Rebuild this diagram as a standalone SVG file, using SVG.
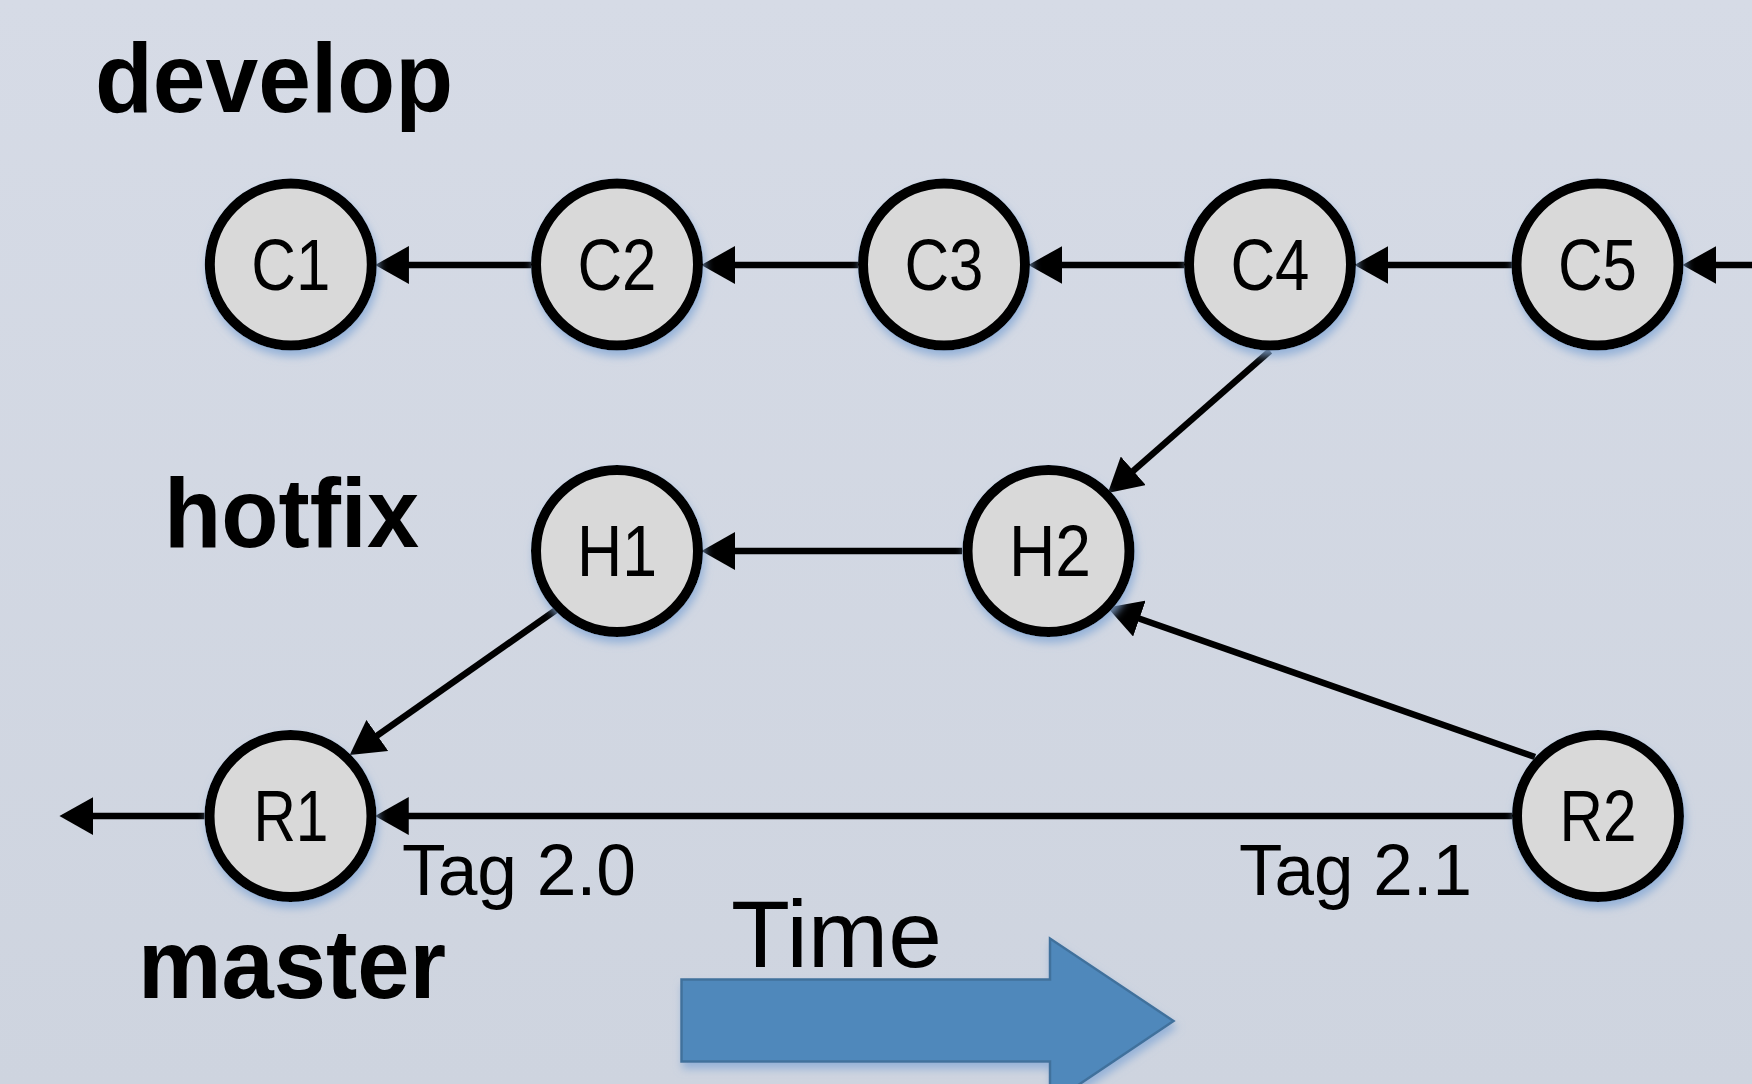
<svg xmlns="http://www.w3.org/2000/svg" width="1752" height="1084" viewBox="0 0 1752 1084">
  <defs>
    <linearGradient id="bg" x1="0" y1="0" x2="0" y2="1">
      <stop offset="0" stop-color="#d6dbe6"/>
      <stop offset="1" stop-color="#ced4df"/>
    </linearGradient>
    <filter id="glow" x="-30%" y="-30%" width="160%" height="160%">
      <feGaussianBlur in="SourceAlpha" stdDeviation="4"/>
      <feOffset dx="2" dy="6" result="b"/>
      <feFlood flood-color="#86a9d6" flood-opacity="0.8"/>
      <feComposite in2="b" operator="in" result="s"/>
      <feMerge><feMergeNode in="s"/><feMergeNode in="SourceGraphic"/></feMerge>
    </filter>
    <marker id="ah" markerUnits="userSpaceOnUse" markerWidth="34" markerHeight="38" refX="4" refY="18" orient="auto" viewBox="0 0 32 36">
      <path d="M0,0 L32,18 L0,36 Z" fill="#000"/>
    </marker>
    <style>
      .node circle { fill: #d9d9d9; stroke: #000; stroke-width: 10; }
      .node text { font-family: "Liberation Sans", Arial, sans-serif; font-size: 73px; fill: #000; text-anchor: middle; }
      .edge { stroke: #000; stroke-width: 6.5; fill: none; marker-end: url(#ah); }
      .branch { font-family: "Liberation Sans", Arial, sans-serif; font-weight: bold; font-size: 98px; fill: #000; }
      .tag { font-family: "Liberation Sans", Arial, sans-serif; font-size: 72px; fill: #000; }
    </style>
  </defs>

  <rect x="0" y="0" width="1752" height="1084" fill="url(#bg)"/>

  <g id="labels">
    <text class="branch" x="95" y="112" textLength="358" lengthAdjust="spacingAndGlyphs">develop</text>
    <text class="branch" x="164" y="547" textLength="255" lengthAdjust="spacingAndGlyphs">hotfix</text>
    <text class="branch" x="138" y="998" textLength="308" lengthAdjust="spacingAndGlyphs">master</text>
    <text class="tag" x="402" y="895" textLength="234" lengthAdjust="spacingAndGlyphs">Tag 2.0</text>
    <text class="tag" x="1239" y="895" textLength="233" lengthAdjust="spacingAndGlyphs">Tag 2.1</text>
    <text class="tag" x="731" y="967" style="font-size:95px" textLength="211" lengthAdjust="spacingAndGlyphs">Time</text>
  </g>

  <g id="time-arrow" filter="url(#glow)">
    <path d="M681.5,979.5 L1050,979.5 L1050,938.5 L1173.5,1021 L1050,1104 L1050,1061.5 L681.5,1061.5 Z" fill="#4f88bb" stroke="#41719c" stroke-width="2.5"/>
  </g>

  <g id="connectors">
    <line class="edge" x1="531" y1="265" x2="404.7" y2="265"/>
    <line class="edge" x1="858" y1="265" x2="730.8" y2="265"/>
    <line class="edge" x1="1184" y1="265" x2="1058" y2="265"/>
    <line class="edge" x1="1512" y1="265" x2="1384" y2="265"/>
    <line class="edge" x1="1760" y1="265" x2="1712" y2="265"/>
    <line class="edge" x1="1270" y1="351" x2="1130.1" y2="473.6"/>
    <line class="edge" x1="962" y1="551" x2="731" y2="551"/>
    <line class="edge" x1="1535" y1="757" x2="1135.4" y2="617.2"/>
    <line class="edge" x1="556" y1="610" x2="373.9" y2="737.9"/>
    <line class="edge" x1="1512" y1="816" x2="404.5" y2="816"/>
    <line class="edge" x1="204.5" y1="816" x2="89" y2="816"/>
  </g>

  <g id="node-C1" class="node" filter="url(#glow)"><circle cx="290.8" cy="264.5" r="81"/><text x="290.8" y="289.5" textLength="79" lengthAdjust="spacingAndGlyphs">C1</text></g>
  <g id="node-C2" class="node" filter="url(#glow)"><circle cx="617" cy="264.5" r="81"/><text x="617" y="289.5" textLength="79" lengthAdjust="spacingAndGlyphs">C2</text></g>
  <g id="node-C3" class="node" filter="url(#glow)"><circle cx="944" cy="264.5" r="81"/><text x="944" y="289.5" textLength="79" lengthAdjust="spacingAndGlyphs">C3</text></g>
  <g id="node-C4" class="node" filter="url(#glow)"><circle cx="1270" cy="264.5" r="81"/><text x="1270" y="289.5" textLength="79" lengthAdjust="spacingAndGlyphs">C4</text></g>
  <g id="node-C5" class="node" filter="url(#glow)"><circle cx="1597.5" cy="264.5" r="81"/><text x="1597.5" y="289.5" textLength="79" lengthAdjust="spacingAndGlyphs">C5</text></g>
  <g id="node-H1" class="node" filter="url(#glow)"><circle cx="617" cy="551" r="81"/><text x="617" y="576" textLength="80" lengthAdjust="spacingAndGlyphs">H1</text></g>
  <g id="node-H2" class="node" filter="url(#glow)"><circle cx="1048.5" cy="551" r="81"/><text x="1050" y="576" textLength="82" lengthAdjust="spacingAndGlyphs">H2</text></g>
  <g id="node-R1" class="node" filter="url(#glow)"><circle cx="290.5" cy="816" r="81"/><text x="291" y="841" textLength="75" lengthAdjust="spacingAndGlyphs">R1</text></g>
  <g id="node-R2" class="node" filter="url(#glow)"><circle cx="1598" cy="816" r="81"/><text x="1598" y="841" textLength="77" lengthAdjust="spacingAndGlyphs">R2</text></g>
</svg>
